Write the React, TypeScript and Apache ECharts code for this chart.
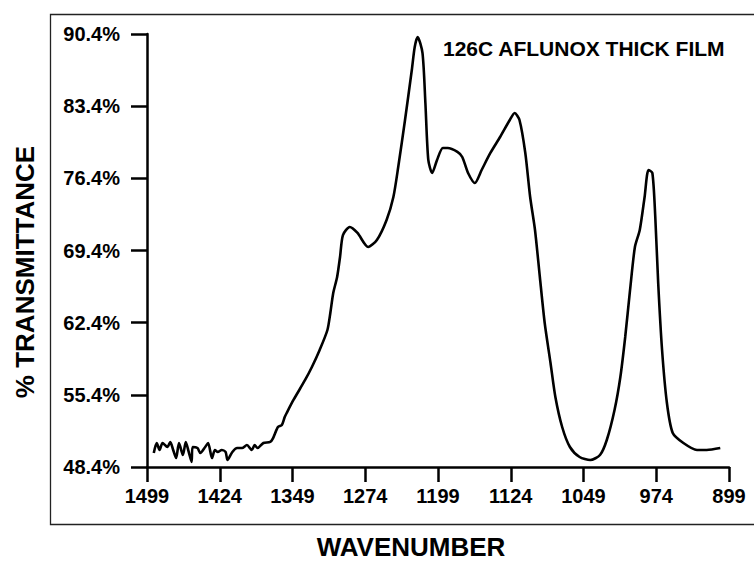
import React, { useEffect, useRef } from "react";
import * as echarts from "echarts";

const wavenumber = [
  1492, 1489, 1486, 1483, 1478, 1475, 1472, 1469, 1466, 1462, 1459, 1456, 1453, 1452,
  1447, 1444, 1439, 1436, 1432, 1429, 1426, 1422, 1418, 1416, 1411, 1406, 1401, 1396,
  1391, 1388, 1385, 1379, 1372, 1369, 1364, 1360, 1357, 1355, 1348, 1336, 1329, 1321,
  1313, 1310, 1307, 1303, 1300, 1297, 1290, 1282, 1271, 1262, 1252, 1245, 1240, 1233,
  1226, 1223, 1220, 1215, 1212, 1209, 1205, 1200, 1194, 1189, 1179, 1174, 1168, 1161,
  1154, 1145, 1135, 1125, 1120, 1115, 1109, 1104, 1099, 1094, 1089, 1083, 1078, 1071,
  1063, 1053, 1042, 1032, 1025, 1017, 1011, 1006, 1001, 996, 991, 986, 982, 978, 975,
  972, 968, 963, 957, 946, 932, 922, 908,
];

const transmittance = [
  49.76, 50.73, 50.05, 50.73, 50.34, 50.83, 50.05, 49.27, 50.73, 49.56, 50.83, 49.86,
  48.89, 50.34, 50.24, 49.76, 50.34, 50.73, 49.27, 50.05, 49.86, 50.05, 49.86, 49.08,
  49.86, 50.24, 50.24, 50.53, 50.05, 50.53, 50.24, 50.73, 50.83, 51.21, 52.28, 52.47,
  53.25, 53.64, 54.9, 56.84, 58.1, 59.75, 61.69, 63.34, 65.28, 66.83, 68.77, 70.9,
  71.68, 71.1, 69.74, 70.42, 72.36, 74.59, 77.5, 82.06, 86.91, 89.14, 90.11, 88.56,
  83.71, 78.18, 76.92, 78.18, 79.34, 79.34, 78.96, 78.47, 76.92, 75.95, 77.21, 78.86,
  80.41, 82.06, 82.74, 82.06, 78.86, 74.59, 71.39, 66.83, 62.37, 58.49, 55.19, 52.28,
  50.34, 49.37, 49.08, 49.56, 51.02, 53.93, 57.13, 61.01, 65.57, 69.74, 71.39, 74.59,
  77.21, 76.92, 72.65, 66.25, 59.75, 54.61, 51.7, 50.73, 50.05, 50.05, 50.24,
];

const xTicks = { min: 899, max: 1499, step: 75 };
const yTicks = { min: 48.4, max: 90.4, step: 7 };

const chartTitle = "126C AFLUNOX THICK FILM";
const xTitle = "WAVENUMBER";
const yTitle = "% TRANSMITTANCE";

export default function App() {
  const ref = useRef<HTMLDivElement>(null);
  useEffect(() => {
    document.body.style.margin = "0";
    if (!ref.current) return;
    const chart = echarts.init(ref.current, null, { renderer: "svg" });
    const font = "'Liberation Sans', Arial, Helvetica, sans-serif";
    const data = wavenumber.map((w, i) => [w, transmittance[i]]);
    chart.setOption({
      animation: false,
      backgroundColor: "#ffffff",
      grid: { left: 147, right: 25, top: 34, bottom: 95, containLabel: false },
      xAxis: {
        type: "value",
        inverse: true,
        min: xTicks.min,
        max: xTicks.max,
        interval: xTicks.step,
        axisLine: { show: true, onZero: false, lineStyle: { color: "#000", width: 2.5 } },
        axisTick: { show: true, inside: false, length: 15, lineStyle: { color: "#000", width: 2.5 } },
        axisLabel: {
          margin: 19,
          color: "#000",
          fontFamily: font,
          fontWeight: "bold",
          fontSize: 20,
          formatter: (v: number) => String(Math.round(v)),
        },
        splitLine: { show: false },
      },
      yAxis: {
        type: "value",
        min: yTicks.min,
        max: yTicks.max,
        interval: yTicks.step,
        axisLine: { show: true, onZero: false, lineStyle: { color: "#000", width: 2.5 } },
        axisTick: { show: true, inside: false, length: 16, lineStyle: { color: "#000", width: 2.5 } },
        axisLabel: {
          margin: 27,
          color: "#000",
          fontFamily: font,
          fontWeight: "bold",
          fontSize: 20,
          formatter: (v: number) => v.toFixed(1) + "%",
        },
        splitLine: { show: false },
      },
      series: [
        {
          type: "line",
          data,
          showSymbol: false,
          smooth: 0.25,
          lineStyle: { color: "#000", width: 2.6 },
        },
      ],
      graphic: [
        {
          type: "rect",
          left: 48,
          top: 12,
          shape: { width: 720, height: 510 },
          style: { fill: "none", stroke: "#222", lineWidth: 1.3 },
          silent: true,
        },
        {
          type: "text",
          left: 443,
          top: 38,
          style: { text: chartTitle, fill: "#000", font: `bold 21px ${font}` },
        },
        {
          type: "text",
          x: 411,
          y: 547,
          style: {
            text: xTitle,
            fill: "#000",
            font: `bold 26px ${font}`,
            align: "center",
            verticalAlign: "middle",
          },
        },
        {
          type: "text",
          x: 25,
          y: 272,
          rotation: Math.PI / 2,
          style: {
            text: yTitle,
            fill: "#000",
            font: `bold 26px ${font}`,
            align: "center",
            verticalAlign: "middle",
          },
        },
      ],
    });
    return () => chart.dispose();
  }, []);
  return <div ref={ref} style={{ width: 754, height: 562 }} />;
}
